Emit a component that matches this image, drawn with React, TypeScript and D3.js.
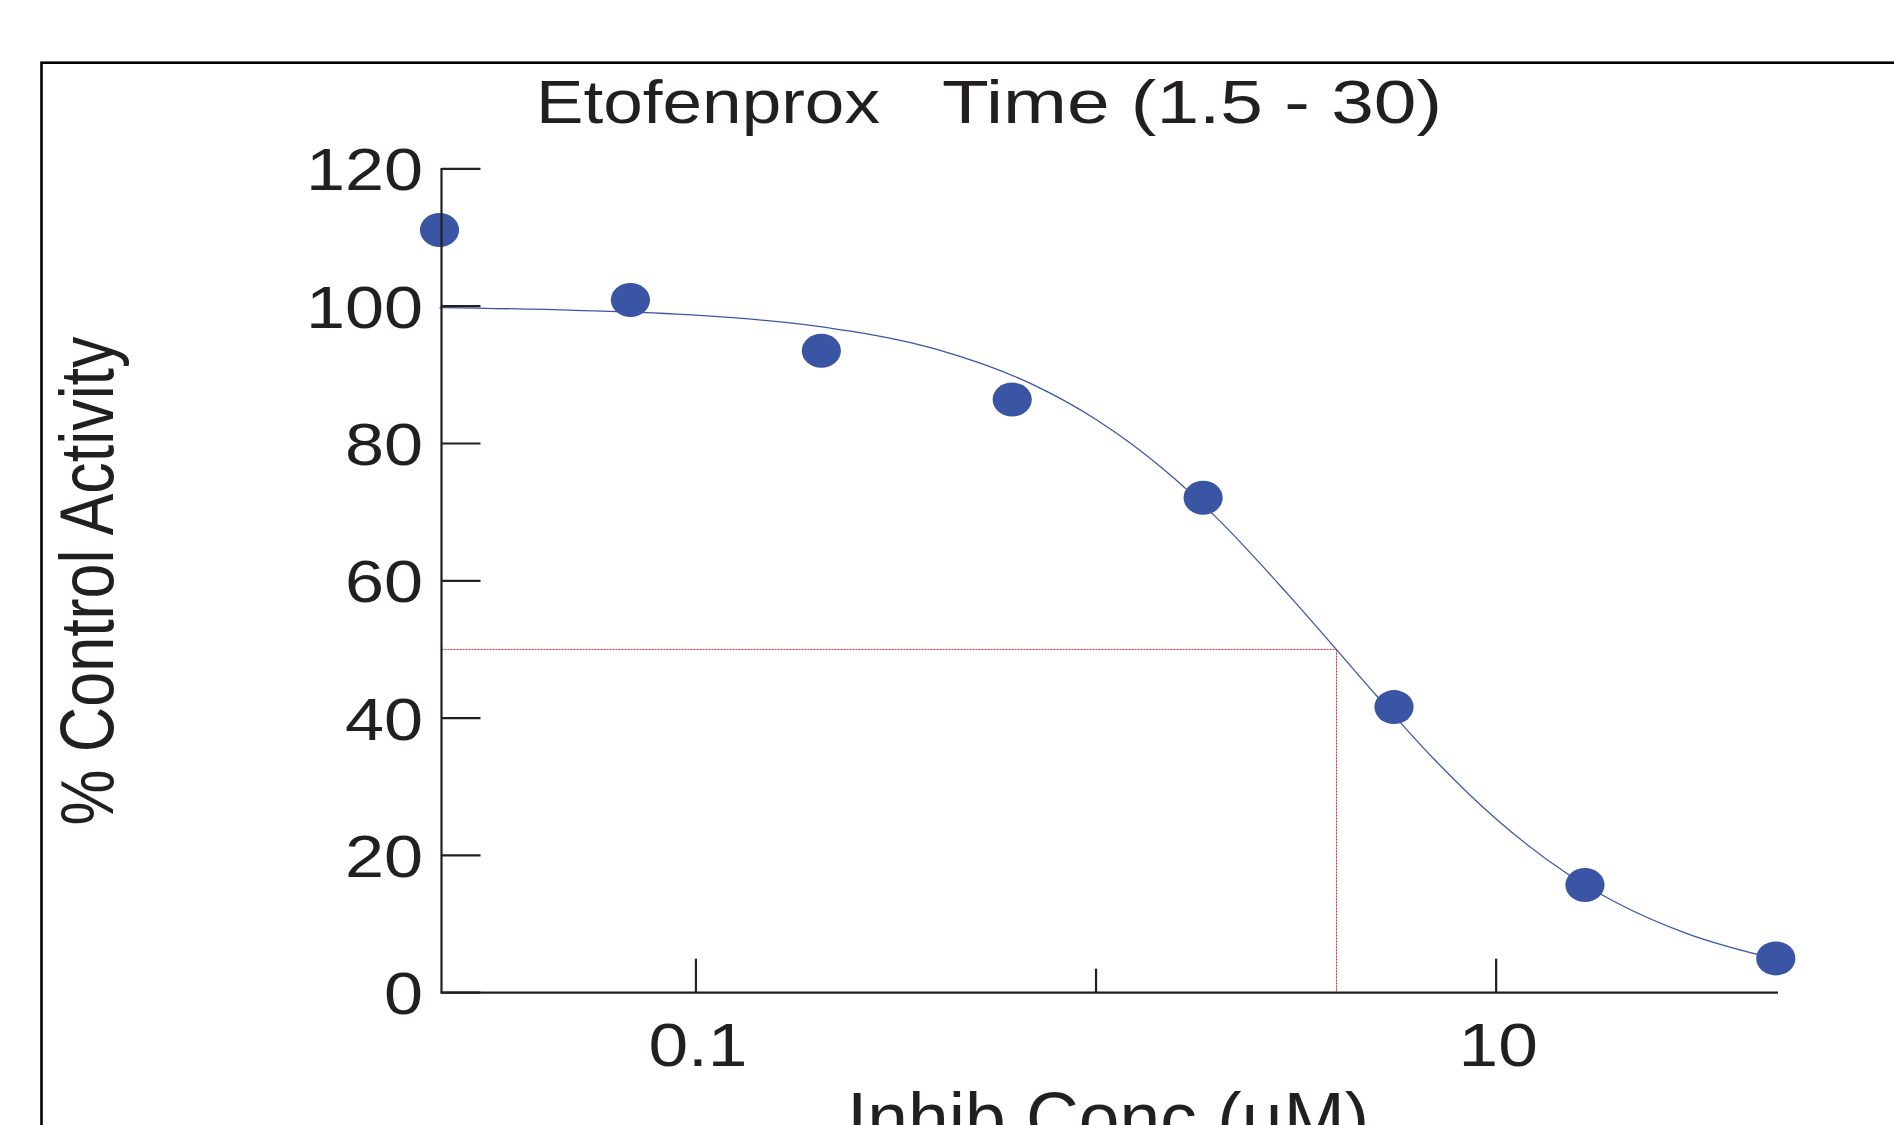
import React from "react";
import * as d3 from "d3";

// ---- data ----
const concentrations = [0.02286, 0.06859, 0.2058, 0.6173, 1.852, 5.556, 16.67, 50];
const activity = [111.1, 100.9, 93.5, 86.4, 72.1, 41.6, 15.7, 5.0];

// fitted curve
const curveConc = [0.02286, 0.05, 0.1, 0.2, 0.4, 0.7, 1, 1.5, 2, 3, 4, 5, 7, 10, 15, 20, 30, 50];
const curveActivity = [99.8, 99.4, 98.7, 97.1, 93.7, 88.5, 83.5, 75.9, 69.2, 58.2, 49.9, 43.4, 34.0, 25.3, 17.4, 13.1, 8.6, 4.9];

const ic50 = 3.99;
const halfLevel = 50;

const yTicks = [0, 20, 40, 60, 80, 100, 120];
const xTicks = [0.1, 1, 10];
const xTickLabels = ["0.1", "", "10"];

const titleParts = ["Etofenprox", "Time (1.5 - 30)"];
const yLabelText = "% Control Activity";
const xLabelText = "Inhib Conc (\u00b5M)";

const W = 1894;
const H = 1125;
const INK = "#231F20";
const BLUE = "#3A55A4";
const FONT = "'Liberation Sans', Arial, Helvetica, sans-serif";

export default function App() {
  const x = d3.scaleLog().domain([concentrations[0], concentrations[concentrations.length - 1]]).range([439.5, 1775.8]);
  const y = d3.scaleLinear().domain([0, 120]).range([992.7, 168.9]);

  const axisX0 = 441.5;
  const axisXEnd = 1778;
  const y0 = y(0);

  const line = d3
    .line<number>()
    .x((_, i) => x(curveConc[i]))
    .y((d) => y(d))
    .curve(d3.curveMonotoneX);

  const icX = x(ic50);
  const icY = y(halfLevel);

  return (
    <svg
      width={W}
      height={H}
      viewBox={`0 0 ${W} ${H}`}
      style={{ position: "absolute", left: 0, top: 0, display: "block", background: "#fff" }}
    >
      <rect x={0} y={0} width={W} height={H} fill="#fff" />
      {/* frame (right/bottom edges beyond the page) */}
      <rect x={41.5} y={62.7} width={2100} height={1300} fill="none" stroke="#000" strokeWidth={2.6} />

      {/* title */}
      <text y={122.7} fontFamily={FONT} fontSize={61} fill={INK}>
        <tspan x={536} textLength={344} lengthAdjust="spacingAndGlyphs">
          {titleParts[0]}
        </tspan>
        <tspan x={942} textLength={500} lengthAdjust="spacingAndGlyphs">
          {titleParts[1]}
        </tspan>
      </text>

      {/* y axis label */}
      <text
        transform={`translate(113,581) rotate(-90)`}
        textAnchor="middle"
        fontFamily={FONT}
        fontSize={76}
        fill={INK}
        textLength={489}
        lengthAdjust="spacingAndGlyphs"
      >
        {yLabelText}
      </text>

      {/* x axis label */}
      <text
        x={1108}
        y={1142.5}
        textAnchor="middle"
        fontFamily={FONT}
        fontSize={72}
        fill={INK}
        textLength={522}
        lengthAdjust="spacingAndGlyphs"
      >
        {xLabelText}
      </text>

      {/* IC50 reference lines */}
      <g stroke="#ED1C24" strokeWidth={1} strokeDasharray="2 1" fill="none">
        <line x1={axisX0} x2={icX} y1={icY} y2={icY} />
        <line x1={icX} x2={icX} y1={icY} y2={y0} />
      </g>

      {/* fitted curve */}
      <path d={line(curveActivity) || ""} fill="none" stroke="#3B56A8" strokeWidth={1.3} />

      {/* data points */}
      {concentrations.map((c, i) => (
        <ellipse key={i} cx={x(c)} cy={y(activity[i])} rx={19.6} ry={17} fill={BLUE} />
      ))}

      {/* axes */}
      <g stroke={INK} strokeWidth={2.2} fill="none">
        <line x1={axisX0} x2={axisX0} y1={y(120) - 1} y2={y0} />
        <line x1={axisX0 - 1} x2={axisXEnd} y1={y0} y2={y0} />
        {yTicks.map((t) => (
          <line key={t} x1={axisX0} x2={axisX0 + 39} y1={y(t)} y2={y(t)} />
        ))}
        {xTicks.map((t, i) => (
          <line key={t} x1={x(t)} x2={x(t)} y1={y0} y2={y0 - (xTickLabels[i] ? 34 : 24)} />
        ))}
      </g>

      {/* y tick labels */}
      {yTicks.map((t) => (
        <text
          key={t}
          transform={`translate(423,${y(t) + 21.5}) scale(1.17,1)`}
          textAnchor="end"
          fontFamily={FONT}
          fontSize={60}
          fill={INK}
        >
          {String(t)}
        </text>
      ))}

      {/* x tick labels */}
      {xTicks.map((t, i) =>
        xTickLabels[i] ? (
          <text
            key={t}
            transform={`translate(${x(t) + 2},1066) scale(1.15,1)`}
            textAnchor="middle"
            fontFamily={FONT}
            fontSize={62}
            fill={INK}
          >
            {xTickLabels[i]}
          </text>
        ) : null
      )}
    </svg>
  );
}
